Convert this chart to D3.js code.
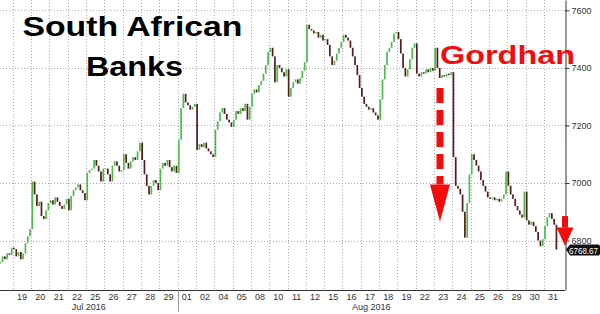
<!DOCTYPE html>
<html>
<head>
<meta charset="utf-8">
<script src="https://cdn.jsdelivr.net/npm/d3@7"></script>
<style>
  body { margin: 0; background: #fff; }
  svg { display: block; }
  .tick text, .month { font-family: "Liberation Sans", Arial, sans-serif; font-size: 9px; fill: #333; }
</style>
</head>
<body>
<div id="container"></div>
<script>
/* CONSTANTS AND GLOBALS */
const width = 600;
const height = 314;
const plot = {left: 0, right: 565, top: 0, bottom: 290};
const barsPerDay = 8;

let svg;
let xDay;
let xSlot;
let yScale;

/* DATA */
// trading days on the axis (Aug 03 election day and Aug 09 Women's Day are missing)
const julDays = ["18", "19", "20", "21", "22", "25", "26", "27", "28", "29"];
const augDays = ["01", "02", "04", "05", "08", "10", "11", "12", "15", "16", "17", "18", "19", "22", "23", "24", "25", "26", "29", "30", "31"];
const yTicks = [6800, 7000, 7200, 7400, 7600];
const firstOpen = 6720;
const lastPrice = 6768.67;

// intraday closes, one array per session
const jul18 = [6725, 6745, 6735, 6755, 6750, 6775]; // only the end of the day is visible
const jul19 = [6770, 6745, 6760, 6735, 6755, 6790, 6815, 6840];
const jul20 = [7005, 6960, 6920, 6935, 6885, 6875, 6905, 6930];
const jul21 = [6940, 6925, 6950, 6935, 6920, 6910, 6925, 6945];
const jul22 = [6905, 6955, 6975, 6985, 6995, 6975, 6965, 6940];
const jul25 = [7035, 7045, 7050, 7080, 7060, 7040, 7005, 7050];
const jul26 = [7050, 7030, 7005, 7060, 7075, 7060, 7040, 7045];
const jul27 = [7100, 7070, 7050, 7075, 7090, 7080, 7110, 7140];
const jul28 = [7080, 7030, 6990, 6960, 6990, 7010, 7000, 6975];
const jul29 = [7050, 7070, 7060, 7080, 7055, 7040, 7060, 7035];
const aug01 = [7150, 7260, 7310, 7280, 7270, 7255, 7265, 7275];
const aug02 = [7115, 7135, 7125, 7140, 7120, 7110, 7100, 7090];
const aug04 = [7185, 7215, 7245, 7260, 7240, 7220, 7210, 7195];
const aug05 = [7220, 7250, 7240, 7260, 7250, 7275, 7220, 7265];
const aug08 = [7310, 7325, 7315, 7340, 7355, 7380, 7410, 7455];
const aug10 = [7470, 7440, 7350, 7410, 7400, 7385, 7370, 7395];
const aug11 = [7300, 7330, 7350, 7360, 7345, 7365, 7390, 7420];
const aug12 = [7550, 7535, 7530, 7520, 7525, 7505, 7515, 7495];
const aug15 = [7500, 7480, 7440, 7410, 7425, 7450, 7470, 7490];
const aug16 = [7515, 7505, 7495, 7470, 7440, 7410, 7375, 7330];
const aug17 = [7300, 7275, 7265, 7255, 7260, 7245, 7235, 7220];
const aug18 = [7290, 7360, 7410, 7455, 7470, 7490, 7520, 7525];
const aug19 = [7500, 7450, 7400, 7370, 7395, 7430, 7470, 7485];
const aug22 = [7380, 7370, 7385, 7380, 7395, 7385, 7400, 7390];
const aug23 = [7470, 7400, 7365, 7375, 7370, 7380, 7375, 7385];
const aug24 = [7090, 6990, 6980, 6960, 6900, 6810, 6930, 7030];
const aug25 = [7100, 7080, 7060, 7040, 7010, 6990, 6970, 6950];
const aug26 = [6945, 6950, 6940, 6945, 6935, 6945, 6960, 7040];
const aug29 = [6990, 6960, 6945, 6920, 6905, 6890, 6880, 6970];
const aug30 = [6870, 6855, 6865, 6850, 6830, 6800, 6780, 6805];
const aug31 = [6850, 6880, 6895, 6875, 6855, 6768.67]; // session still running

const closesByDay = [jul18, jul19, jul20, jul21, jul22, jul25, jul26, jul27, jul28, jul29,
  aug01, aug02, aug04, aug05, aug08, aug10, aug11, aug12, aug15, aug16, aug17, aug18,
  aug19, aug22, aug23, aug24, aug25, aug26, aug29, aug30, aug31];

const dayKeys = julDays.map(d => "Jul " + d).concat(augDays.map(d => "Aug " + d));

init();

/* INITIALIZING FUNCTION */
function init() {
  // one band per session, Jul 18 sits half outside the left edge
  xDay = d3.scaleBand()
    .domain(dayKeys)
    .range([-5.46, 562.15]);

  xSlot = d3.scaleBand()
    .domain(d3.range(barsPerDay))
    .range([0, xDay.bandwidth()]);

  yScale = d3.scaleLinear()
    .domain([6628, 7636])
    .range([plot.bottom, plot.top]);

  svg = d3.select("#container")
    .append("svg")
    .attr("width", width)
    .attr("height", height);

  svg.append("clipPath")
    .attr("id", "plotClip")
    .append("rect")
    .attr("x", plot.left)
    .attr("y", plot.top)
    .attr("width", plot.right - plot.left)
    .attr("height", plot.bottom - plot.top);

  draw();
}

/* DRAW FUNCTION */
function draw() {
  // candles: open is the previous bar's close
  const candles = [];
  let prev = firstOpen;
  closesByDay.forEach((closes, i) => {
    const offset = i === 0 ? barsPerDay - closes.length : 0;
    closes.forEach((c, j) => {
      candles.push({day: dayKeys[i], slot: j + offset, open: prev, close: c});
      prev = c;
    });
  });

  // grid
  const grid = svg.append("g").attr("class", "grid");

  grid.selectAll("line.h")
    .data(yTicks)
    .join("line")
    .attr("class", "h")
    .attr("x1", plot.left)
    .attr("x2", plot.right)
    .attr("y1", d => Math.round(yScale(d)) + 0.5)
    .attr("y2", d => Math.round(yScale(d)) + 0.5)
    .attr("stroke", "#aaa")
    .attr("stroke-dasharray", "1,2");

  grid.selectAll("line.v")
    .data(dayKeys.slice(1))
    .join("line")
    .attr("class", "v")
    .attr("x1", d => Math.round(xDay(d)) + 0.5)
    .attr("x2", d => Math.round(xDay(d)) + 0.5)
    .attr("y1", plot.top)
    .attr("y2", plot.bottom)
    .attr("stroke", "#aaa")
    .attr("stroke-dasharray", "1,2");

  const bodyW = 1.7;
  svg.append("g")
    .attr("clip-path", "url(#plotClip)")
    .selectAll("rect.candle")
    .data(candles)
    .join("rect")
    .attr("class", "candle")
    .attr("x", d => xDay(d.day) + xSlot(d.slot) + (xSlot.bandwidth() - bodyW) / 2)
    .attr("width", bodyW)
    .attr("y", d => yScale(Math.max(d.open, d.close)))
    .attr("height", d => Math.max(1, Math.abs(yScale(d.open) - yScale(d.close))))
    .attr("fill", d => d.close >= d.open ? "#4cbc4c" : "#561c1c");

  // x axis
  const xAxis = d3.axisBottom(xDay)
    .tickValues(dayKeys.slice(1))
    .tickSize(0)
    .tickPadding(4)
    .tickFormat(d => d.split(" ")[1]);

  svg.append("g")
    .attr("class", "xAxis")
    .attr("transform", `translate(0, ${plot.bottom})`)
    .call(xAxis)
    .call(g => g.select(".domain").remove());

  svg.append("line")
    .attr("x1", plot.left)
    .attr("x2", plot.right)
    .attr("y1", plot.bottom + 0.5)
    .attr("y2", plot.bottom + 0.5)
    .attr("stroke", "#333");

  // month divider below the axis
  svg.append("line")
    .attr("x1", Math.round(xDay("Aug 01")) + 0.5)
    .attr("x2", Math.round(xDay("Aug 01")) + 0.5)
    .attr("y1", plot.bottom)
    .attr("y2", plot.bottom + 22)
    .attr("stroke", "#999");

  svg.selectAll("text.month")
    .data([
      {label: "Jul 2016", from: plot.left, to: xDay("Aug 01")},
      {label: "Aug 2016", from: xDay("Aug 01"), to: plot.right}
    ])
    .join("text")
    .attr("class", "month")
    .attr("x", d => (d.from + d.to) / 2)
    .attr("y", plot.bottom + 20)
    .attr("text-anchor", "middle")
    .text(d => d.label);

  // y axis on the right
  const yAxis = d3.axisRight(yScale)
    .tickValues(yTicks)
    .tickSize(4)
    .tickSizeOuter(0)
    .tickPadding(2)
    .tickFormat(d3.format("d"));

  const yAxisGroup = svg.append("g")
    .attr("class", "yAxis")
    .attr("transform", `translate(${plot.right + 0.5}, 0)`)
    .call(yAxis);
  yAxisGroup.select(".domain").attr("stroke", "#333");
  yAxisGroup.selectAll(".tick line").attr("stroke", "#333");

  // titles
  svg.append("text")
    .attr("x", 22.5)
    .attr("y", 35.5)
    .attr("textLength", 220)
    .attr("lengthAdjust", "spacingAndGlyphs")
    .style("font-family", "Liberation Sans, Arial, sans-serif")
    .style("font-weight", "bold")
    .style("font-size", "28px")
    .attr("fill", "#000")
    .text("South African");

  svg.append("text")
    .attr("x", 86)
    .attr("y", 75.5)
    .attr("textLength", 97)
    .attr("lengthAdjust", "spacingAndGlyphs")
    .style("font-family", "Liberation Sans, Arial, sans-serif")
    .style("font-weight", "bold")
    .style("font-size", "28px")
    .attr("fill", "#000")
    .text("Banks");

  svg.append("text")
    .attr("x", 440)
    .attr("y", 64)
    .attr("textLength", 135)
    .attr("lengthAdjust", "spacingAndGlyphs")
    .style("font-family", "Liberation Sans, Arial, sans-serif")
    .style("font-weight", "bold")
    .style("font-size", "25px")
    .attr("fill", "#f20d0d")
    .text("Gordhan");

  // red arrows
  const red = "#f20d0d";
  const ax = xDay("Aug 23") + 6;
  const headTop = yScale(6995);
  const headTip = yScale(6865);
  svg.append("line")
    .attr("x1", ax).attr("x2", ax)
    .attr("y1", yScale(7330))
    .attr("y2", headTop)
    .attr("stroke", red)
    .attr("stroke-width", 7)
    .attr("stroke-dasharray", "15,7");
  svg.append("path")
    .attr("d", `M${ax - 10},${headTop} L${ax + 10},${headTop} L${ax},${headTip} Z`)
    .attr("fill", red);

  const bx = plot.right;
  const bTop = yScale(6845);
  svg.append("rect")
    .attr("x", bx - 3).attr("y", yScale(6885))
    .attr("width", 6).attr("height", bTop - yScale(6885))
    .attr("fill", red);
  svg.append("path")
    .attr("d", `M${bx - 8.5},${bTop} L${bx + 8.5},${bTop} L${bx},${yScale(6782)} Z`)
    .attr("fill", red);

  // last price tag
  const ly = yScale(lastPrice);
  svg.append("path")
    .attr("d", `M${plot.right + 1},${ly} L${plot.right + 5},${ly - 5} H598 Q600,${ly - 5} 600,${ly - 3} V${ly + 4} Q600,${ly + 6} 598,${ly + 6} H${plot.right + 5} Z`)
    .attr("fill", "#111");
  svg.append("text")
    .attr("x", 569)
    .attr("y", ly + 4)
    .attr("textLength", 29)
    .attr("lengthAdjust", "spacingAndGlyphs")
    .style("font-family", "Liberation Sans, Arial, sans-serif")
    .style("font-size", "9px")
    .attr("fill", "#fff")
    .text(d3.format(".2f")(lastPrice));
}
</script>
</body>
</html>
